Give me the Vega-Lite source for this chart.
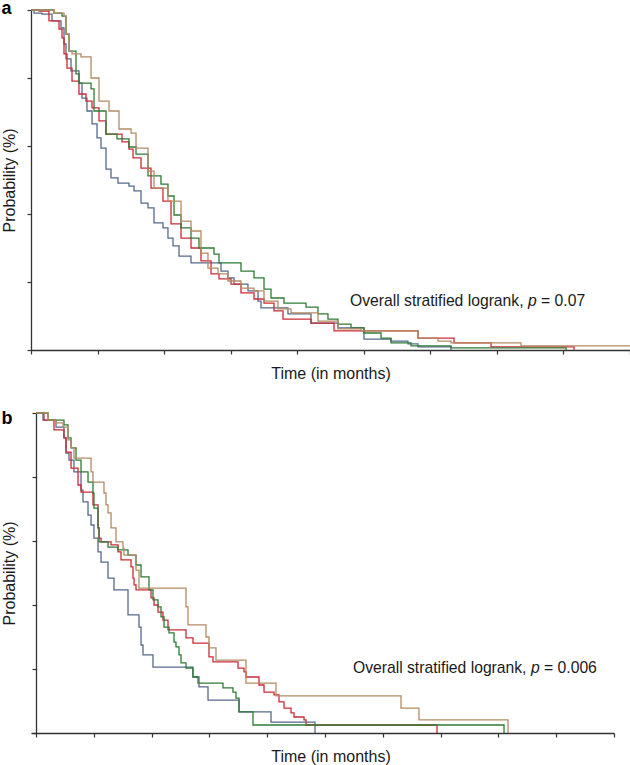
{
  "$schema": "https://vega.github.io/schema/vega-lite/v6.json",
  "padding": {"left": 1, "top": 0, "right": 0, "bottom": 0},
  "background": "white",
  "columns": 1,
  "spacing": 28,
  "config": {
    "view": {"stroke": null},
    "font": "Liberation Sans",
    "axis": {
      "grid": false, "labels": false, "domainColor": "#333", "tickColor": "#333",
      "domainWidth": 1.3, "tickWidth": 1.2, "tickSize": 4,
      "titleFont": "Liberation Sans", "titleFontSize": 16, "titleFontWeight": "normal", "titleColor": "#1a1a1a"
    },
    "title": {"font": "Liberation Sans", "fontSize": 18, "fontWeight": "bold", "color": "#000", "anchor": "start", "frame": "bounds", "baseline": "alphabetic"}
  },
  "datasets": {
    "a": [
      {"group":"blue","time":0,"survival":100},{"group":"blue","time":0.45,"survival":99.1},{"group":"blue","time":1.65,"survival":98.8},{"group":"blue","time":3.16,"survival":96.8},{"group":"blue","time":4.51,"survival":94.7},{"group":"blue","time":4.96,"survival":90.0},{"group":"blue","time":5.26,"survival":85.6},{"group":"blue","time":6.01,"survival":82.1},{"group":"blue","time":7.21,"survival":78.5},{"group":"blue","time":7.66,"survival":74.1},{"group":"blue","time":8.41,"survival":70.3},{"group":"blue","time":9.17,"survival":66.5},{"group":"blue","time":9.92,"survival":62.4},{"group":"blue","time":10.52,"survival":59.4},{"group":"blue","time":11.27,"survival":53.2},{"group":"blue","time":12.02,"survival":50.6},{"group":"blue","time":13.07,"survival":49.1},{"group":"blue","time":14.72,"survival":48.2},{"group":"blue","time":15.48,"survival":46.8},{"group":"blue","time":16.53,"survival":43.2},{"group":"blue","time":17.58,"survival":41.8},{"group":"blue","time":18.48,"survival":37.4},{"group":"blue","time":19.83,"survival":35.9},{"group":"blue","time":20.58,"survival":32.9},{"group":"blue","time":21.34,"survival":30.6},{"group":"blue","time":22.24,"survival":27.6},{"group":"blue","time":24.04,"survival":25.6},{"group":"blue","time":28.55,"survival":23.2},{"group":"blue","time":29.6,"survival":21.2},{"group":"blue","time":30.5,"survival":19.4},{"group":"blue","time":32.6,"survival":17.4},{"group":"blue","time":34.11,"survival":14.4},{"group":"blue","time":34.56,"survival":12.4},{"group":"blue","time":38.61,"survival":10.6},{"group":"blue","time":42.07,"survival":7.9},{"group":"blue","time":46.13,"survival":6.5},{"group":"blue","time":50.03,"survival":3.2},{"group":"blue","time":54.09,"survival":2.6},{"group":"blue","time":56.64,"survival":1.8},{"group":"blue","time":58.15,"survival":0.9},{"group":"blue","time":63.1,"survival":0},
      {"group":"red","time":0,"survival":100},{"group":"red","time":1.2,"survival":99.7},{"group":"red","time":2.7,"survival":96.8},{"group":"red","time":4.21,"survival":94.4},{"group":"red","time":4.66,"survival":91.8},{"group":"red","time":4.96,"survival":87.1},{"group":"red","time":5.41,"survival":82.9},{"group":"red","time":6.16,"survival":79.1},{"group":"red","time":7.21,"survival":75.3},{"group":"red","time":8.26,"survival":73.2},{"group":"red","time":9.17,"survival":71.2},{"group":"red","time":10.22,"survival":67.4},{"group":"red","time":11.27,"survival":63.5},{"group":"red","time":13.67,"survival":61.2},{"group":"red","time":14.72,"survival":59.1},{"group":"red","time":15.33,"survival":56.5},{"group":"red","time":16.53,"survival":53.5},{"group":"red","time":18.03,"survival":47.6},{"group":"red","time":19.83,"survival":43.8},{"group":"red","time":21.04,"survival":37.1},{"group":"red","time":22.54,"survival":32.9},{"group":"red","time":24.04,"survival":30.0},{"group":"red","time":25.54,"survival":26.2},{"group":"red","time":27.05,"survival":22.4},{"group":"red","time":28.25,"survival":20.9},{"group":"red","time":30.05,"survival":19.4},{"group":"red","time":31.55,"survival":16.8},{"group":"red","time":33.51,"survival":15.0},{"group":"red","time":35.01,"survival":13.8},{"group":"red","time":36.51,"survival":11.5},{"group":"red","time":37.86,"survival":9.1},{"group":"red","time":42.07,"survival":7.9},{"group":"red","time":45.53,"survival":5.6},{"group":"red","time":58.15,"survival":3.5},{"group":"red","time":63.56,"survival":2.1},{"group":"red","time":69.12,"survival":0.9},{"group":"red","time":81.59,"survival":0},
      {"group":"green","time":0,"survival":100},{"group":"green","time":3.46,"survival":99.1},{"group":"green","time":4.66,"survival":98.2},{"group":"green","time":5.26,"survival":92.9},{"group":"green","time":5.71,"survival":87.9},{"group":"green","time":6.76,"survival":81.2},{"group":"green","time":7.21,"survival":78.5},{"group":"green","time":9.02,"survival":76.8},{"group":"green","time":9.47,"survival":70.3},{"group":"green","time":11.27,"survival":63.5},{"group":"green","time":12.92,"survival":62.1},{"group":"green","time":14.72,"survival":59.7},{"group":"green","time":15.78,"survival":57.6},{"group":"green","time":17.58,"survival":51.2},{"group":"green","time":19.53,"survival":48.8},{"group":"green","time":20.58,"survival":45.3},{"group":"green","time":21.49,"survival":39.7},{"group":"green","time":22.54,"survival":35.9},{"group":"green","time":24.04,"survival":32.9},{"group":"green","time":25.24,"survival":30.0},{"group":"green","time":27.5,"survival":28.2},{"group":"green","time":28.25,"survival":25.6},{"group":"green","time":31.55,"survival":23.2},{"group":"green","time":33.51,"survival":21.2},{"group":"green","time":35.01,"survival":17.9},{"group":"green","time":36.06,"survival":15.3},{"group":"green","time":38.01,"survival":13.8},{"group":"green","time":41.32,"survival":12.6},{"group":"green","time":43.12,"survival":10.6},{"group":"green","time":44.62,"survival":9.1},{"group":"green","time":46.13,"survival":7.6},{"group":"green","time":48.08,"survival":6.5},{"group":"green","time":50.03,"survival":5.0},{"group":"green","time":52.59,"survival":3.5},{"group":"green","time":54.09,"survival":2.1},{"group":"green","time":57.1,"survival":1.2},{"group":"green","time":63.11,"survival":0.6},{"group":"green","time":80.4,"survival":0},
      {"group":"tan","time":0,"survival":100},{"group":"tan","time":3.46,"survival":99.1},{"group":"tan","time":4.96,"survival":98.2},{"group":"tan","time":5.26,"survival":92.9},{"group":"tan","time":5.71,"survival":87.9},{"group":"tan","time":6.16,"survival":87.1},{"group":"tan","time":7.51,"survival":86.2},{"group":"tan","time":9.02,"survival":80.0},{"group":"tan","time":10.22,"survival":73.2},{"group":"tan","time":11.72,"survival":70.3},{"group":"tan","time":13.22,"survival":65.0},{"group":"tan","time":15.03,"survival":63.8},{"group":"tan","time":15.78,"survival":59.4},{"group":"tan","time":17.58,"survival":52.6},{"group":"tan","time":18.48,"survival":47.6},{"group":"tan","time":20.58,"survival":43.8},{"group":"tan","time":22.54,"survival":37.9},{"group":"tan","time":24.04,"survival":35.0},{"group":"tan","time":25.54,"survival":28.5},{"group":"tan","time":26.59,"survival":24.1},{"group":"tan","time":28.1,"survival":22.4},{"group":"tan","time":29.6,"survival":20.3},{"group":"tan","time":31.55,"survival":18.2},{"group":"tan","time":33.51,"survival":17.4},{"group":"tan","time":35.01,"survival":14.4},{"group":"tan","time":37.11,"survival":12.1},{"group":"tan","time":39.07,"survival":10.9},{"group":"tan","time":43.12,"survival":8.5},{"group":"tan","time":46.13,"survival":6.2},{"group":"tan","time":49.58,"survival":5.6},{"group":"tan","time":58.15,"survival":3.5},{"group":"tan","time":61.15,"survival":2.6},{"group":"tan","time":63.11,"survival":2.1},{"group":"tan","time":73.62,"survival":1.2},{"group":"tan","time":90,"survival":1.2}
    ],
    "b": [
      {"group":"blue","time":0,"survival":100},{"group":"blue","time":1.21,"survival":97.8},{"group":"blue","time":3.46,"survival":95.6},{"group":"blue","time":4.84,"survival":92.2},{"group":"blue","time":5.19,"survival":87.5},{"group":"blue","time":5.71,"survival":85.3},{"group":"blue","time":6.57,"survival":81.6},{"group":"blue","time":7.79,"survival":75.9},{"group":"blue","time":8.13,"survival":72.2},{"group":"blue","time":9.0,"survival":68.1},{"group":"blue","time":9.52,"survival":65.0},{"group":"blue","time":10.03,"survival":60.9},{"group":"blue","time":10.73,"survival":56.6},{"group":"blue","time":11.25,"survival":53.4},{"group":"blue","time":12.46,"survival":48.4},{"group":"blue","time":13.49,"survival":44.7},{"group":"blue","time":15.92,"survival":36.9},{"group":"blue","time":17.82,"survival":33.1},{"group":"blue","time":18.17,"survival":27.5},{"group":"blue","time":18.51,"survival":24.4},{"group":"blue","time":20.24,"survival":20.6},{"group":"blue","time":27.16,"survival":17.5},{"group":"blue","time":28.2,"survival":14.4},{"group":"blue","time":29.76,"survival":10.3},{"group":"blue","time":35.12,"survival":6.6},{"group":"blue","time":40.66,"survival":3.4},{"group":"blue","time":48.27,"survival":0},
      {"group":"red","time":0,"survival":100},{"group":"red","time":1.38,"survival":97.8},{"group":"red","time":3.11,"survival":94.7},{"group":"red","time":4.84,"survival":92.2},{"group":"red","time":5.19,"survival":87.8},{"group":"red","time":6.06,"survival":82.8},{"group":"red","time":7.27,"survival":77.5},{"group":"red","time":7.79,"survival":75.3},{"group":"red","time":9.86,"survival":71.3},{"group":"red","time":10.73,"survival":64.1},{"group":"red","time":10.9,"survival":60.9},{"group":"red","time":11.25,"survival":59.7},{"group":"red","time":12.98,"survival":58.8},{"group":"red","time":14.19,"survival":56.6},{"group":"red","time":14.71,"survival":54.1},{"group":"red","time":16.44,"survival":51.9},{"group":"red","time":16.78,"survival":48.4},{"group":"red","time":16.96,"survival":46.3},{"group":"red","time":17.3,"survival":44.7},{"group":"red","time":19.9,"survival":42.2},{"group":"red","time":20.42,"survival":40.0},{"group":"red","time":21.11,"survival":37.8},{"group":"red","time":21.97,"survival":35.3},{"group":"red","time":22.84,"survival":32.2},{"group":"red","time":25.95,"survival":29.7},{"group":"red","time":27.16,"survival":28.1},{"group":"red","time":29.93,"survival":23.8},{"group":"red","time":30.62,"survival":22.2},{"group":"red","time":34.95,"survival":20.3},{"group":"red","time":35.99,"survival":19.1},{"group":"red","time":36.33,"survival":17.5},{"group":"red","time":38.58,"survival":15.0},{"group":"red","time":39.45,"survival":12.8},{"group":"red","time":41.18,"survival":11.9},{"group":"red","time":42.04,"survival":9.7},{"group":"red","time":42.91,"survival":7.8},{"group":"red","time":44.12,"survival":6.3},{"group":"red","time":44.64,"survival":5.0},{"group":"red","time":46.37,"survival":4.1},{"group":"red","time":46.71,"survival":2.5},{"group":"red","time":69.38,"survival":0},
      {"group":"green","time":0,"survival":100},{"group":"green","time":2.08,"survival":97.8},{"group":"green","time":4.84,"survival":96.3},{"group":"green","time":5.54,"survival":92.2},{"group":"green","time":6.06,"survival":89.1},{"group":"green","time":6.92,"survival":85.3},{"group":"green","time":7.79,"survival":81.6},{"group":"green","time":9.0,"survival":78.4},{"group":"green","time":9.86,"survival":75.0},{"group":"green","time":10.03,"survival":70.3},{"group":"green","time":10.73,"survival":64.1},{"group":"green","time":10.9,"survival":59.7},{"group":"green","time":12.46,"survival":58.1},{"group":"green","time":14.19,"survival":57.2},{"group":"green","time":15.92,"survival":55.6},{"group":"green","time":17.3,"survival":52.5},{"group":"green","time":18.17,"survival":48.8},{"group":"green","time":19.55,"survival":44.7},{"group":"green","time":20.24,"survival":41.6},{"group":"green","time":21.11,"survival":39.4},{"group":"green","time":21.63,"survival":36.3},{"group":"green","time":22.15,"survival":33.1},{"group":"green","time":23.01,"survival":31.3},{"group":"green","time":23.88,"survival":28.4},{"group":"green","time":24.22,"survival":26.9},{"group":"green","time":24.74,"survival":24.4},{"group":"green","time":25.09,"survival":21.9},{"group":"green","time":25.95,"survival":20.3},{"group":"green","time":27.16,"survival":17.5},{"group":"green","time":28.03,"survival":15.6},{"group":"green","time":32.35,"survival":14.1},{"group":"green","time":34.08,"survival":12.8},{"group":"green","time":34.6,"survival":10.9},{"group":"green","time":35.12,"survival":6.6},{"group":"green","time":37.54,"survival":2.5},{"group":"green","time":80.97,"survival":0},
      {"group":"tan","time":0,"survival":100},{"group":"tan","time":2.08,"survival":97.8},{"group":"tan","time":3.46,"survival":96.9},{"group":"tan","time":4.67,"survival":95.6},{"group":"tan","time":5.54,"survival":91.6},{"group":"tan","time":6.06,"survival":89.1},{"group":"tan","time":6.57,"survival":85.9},{"group":"tan","time":9.52,"survival":81.6},{"group":"tan","time":9.86,"survival":78.4},{"group":"tan","time":11.76,"survival":75.0},{"group":"tan","time":12.11,"survival":71.3},{"group":"tan","time":12.46,"survival":68.8},{"group":"tan","time":12.98,"survival":64.1},{"group":"tan","time":13.84,"survival":59.7},{"group":"tan","time":15.05,"survival":57.8},{"group":"tan","time":15.22,"survival":55.6},{"group":"tan","time":17.3,"survival":50.9},{"group":"tan","time":17.82,"survival":45.3},{"group":"tan","time":25.95,"survival":39.4},{"group":"tan","time":26.3,"survival":33.8},{"group":"tan","time":29.41,"survival":30.0},{"group":"tan","time":29.93,"survival":26.6},{"group":"tan","time":31.14,"survival":22.8},{"group":"tan","time":36.33,"survival":15.6},{"group":"tan","time":41.52,"survival":11.6},{"group":"tan","time":63.15,"survival":7.8},{"group":"tan","time":66.26,"survival":4.1},{"group":"tan","time":81.66,"survival":0}
    ]
  },
  "concat": [
    {
      "width": 599, "height": 340,
      "title": {"text": "a", "offset": -11},
      "layer": [
        {
          "data": {"name": "a"},
          "mark": {"type": "line", "interpolate": "step-after", "strokeWidth": 1.3},
          "encoding": {
            "x": {"field": "time", "type": "quantitative", "scale": {"domain": [0, 90], "nice": false}, "axis": {"values": [0,10,20,30,40,50,60,70,80,90], "title": "Time (in months)", "titlePadding": 11}},
            "y": {"field": "survival", "type": "quantitative", "scale": {"domain": [0, 100], "nice": false}, "axis": {"values": [0,20,40,60,80,100], "title": "Probability (%)", "titlePadding": 9}},
            "color": {"field": "group", "type": "nominal", "legend": null, "scale": {"domain": ["blue","green","tan","red"], "range": ["#56698a","#2e7b34","#b38b63","#cc2a36"]}},
            "detail": {"field": "group"}
          }
        },
        {
          "data": {"values": [{"time": 47.93, "survival": 13, "label": "Overall stratified logrank,"}, {"time": 76.64, "survival": 13, "label": "= 0.07"}]},
          "mark": {"type": "text", "align": "left", "baseline": "alphabetic", "fontSize": 15.7, "font": "Liberation Sans", "color": "#1a1a1a"},
          "encoding": {"x": {"field": "time", "type": "quantitative"}, "y": {"field": "survival", "type": "quantitative"}, "text": {"field": "label"}}
        },
        {
          "data": {"values": [{"time": 74.67, "survival": 13, "label": "p"}]},
          "mark": {"type": "text", "align": "left", "baseline": "alphabetic", "fontSize": 15.7, "fontStyle": "italic", "font": "Liberation Sans", "color": "#1a1a1a"},
          "encoding": {"x": {"field": "time", "type": "quantitative"}, "y": {"field": "survival", "type": "quantitative"}, "text": {"field": "label"}}
        }
      ]
    },
    {
      "width": 583, "height": 320,
      "title": {"text": "b", "offset": -18},
      "layer": [
        {
          "data": {"name": "b"},
          "mark": {"type": "line", "interpolate": "step-after", "strokeWidth": 1.3},
          "encoding": {
            "x": {"field": "time", "type": "quantitative", "scale": {"domain": [-0.865, 100], "nice": false}, "axis": {"values": [0,10,20,30,40,50,60,70,80,90,100], "title": "Time (in months)", "titlePadding": 11, "titleX": 299.5}},
            "y": {"field": "survival", "type": "quantitative", "scale": {"domain": [0, 100], "nice": false}, "axis": {"values": [0,10,20,30,40,50,60,70,80,90,100], "title": "Probability (%)", "titlePadding": 14, "offset": -5}},
            "color": {"field": "group", "type": "nominal", "legend": null, "scale": {"domain": ["blue","green","tan","red"], "range": ["#56698a","#2e7b34","#b38b63","#cc2a36"]}},
            "detail": {"field": "group"}
          }
        },
        {
          "data": {"values": [{"time": 54.84, "survival": 18.75, "label": "Overall stratified logrank,"}, {"time": 87.9, "survival": 18.75, "label": "= 0.006"}]},
          "mark": {"type": "text", "align": "left", "baseline": "alphabetic", "fontSize": 15.7, "font": "Liberation Sans", "color": "#1a1a1a"},
          "encoding": {"x": {"field": "time", "type": "quantitative"}, "y": {"field": "survival", "type": "quantitative"}, "text": {"field": "label"}}
        },
        {
          "data": {"values": [{"time": 85.64, "survival": 18.75, "label": "p"}]},
          "mark": {"type": "text", "align": "left", "baseline": "alphabetic", "fontSize": 15.7, "fontStyle": "italic", "font": "Liberation Sans", "color": "#1a1a1a"},
          "encoding": {"x": {"field": "time", "type": "quantitative"}, "y": {"field": "survival", "type": "quantitative"}, "text": {"field": "label"}}
        }
      ]
    }
  ]
}
